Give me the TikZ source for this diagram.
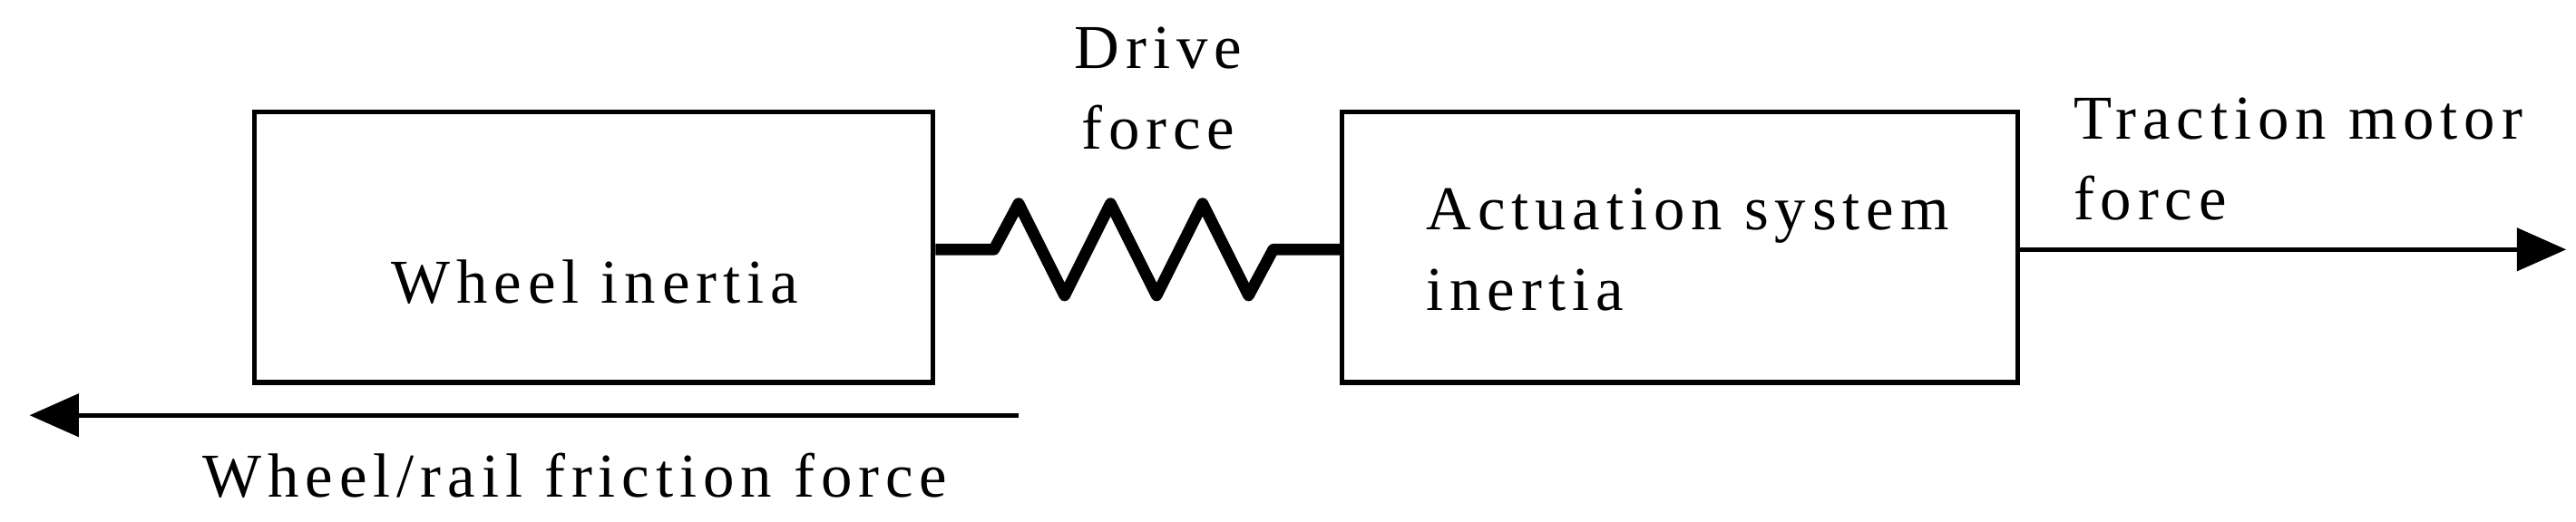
\documentclass[tikz,border=0pt]{standalone}
\usepackage{fontspec}
\setmainfont{Liberation Serif}[LetterSpace=10]
\usetikzlibrary{arrows.meta}
\begin{document}
\begin{tikzpicture}[x=1pt,y=-1pt,
  blk/.style={draw,line width=2.8pt,inner sep=0pt},
  lbl/.style={font=\fontsize{38}{49}\selectfont,inner sep=0pt},
  arr/.style={line width=2.5pt,-{Triangle[length=30pt,width=26pt]}}]
\useasboundingbox (0,0) rectangle (1568,317.5);
\node[blk,minimum width=413pt,minimum height=165pt] (wheel) at (361.5,150.5) {};
\node[blk,minimum width=411pt,minimum height=165pt] (act) at (1022.5,150.5) {};
\node[lbl] (wt) at (362,172) {Wheel inertia};
\node[lbl,anchor=west,align=left] (at) at (868,152) {Actuation system\\inertia};
\node[lbl,align=center] (df) at (705,54) {Drive\\force};
\node[lbl,anchor=west,align=left] (tf) at (1262,97) {Traction motor\\force};
\node[lbl] (ff) at (350,290) {Wheel/rail friction force};
\coordinate (s1) at (605,152);
\coordinate (s2) at (775,152);
\draw[line width=7pt,line join=round] (wheel.east |- s1) -- (s1) -- (620,124) -- (648,180) -- (676,124) -- (704,180) -- (732,124) -- (760,180) -- (775,152) -- (act.west |- s2);
\coordinate (ra) at (1562,152);
\draw[arr] (act.east |- ra) -- (ra);
\coordinate (la0) at (620,253);
\coordinate (la1) at (18,253);
\draw[arr] (la0) -- (la1);
\end{tikzpicture}
\end{document}
